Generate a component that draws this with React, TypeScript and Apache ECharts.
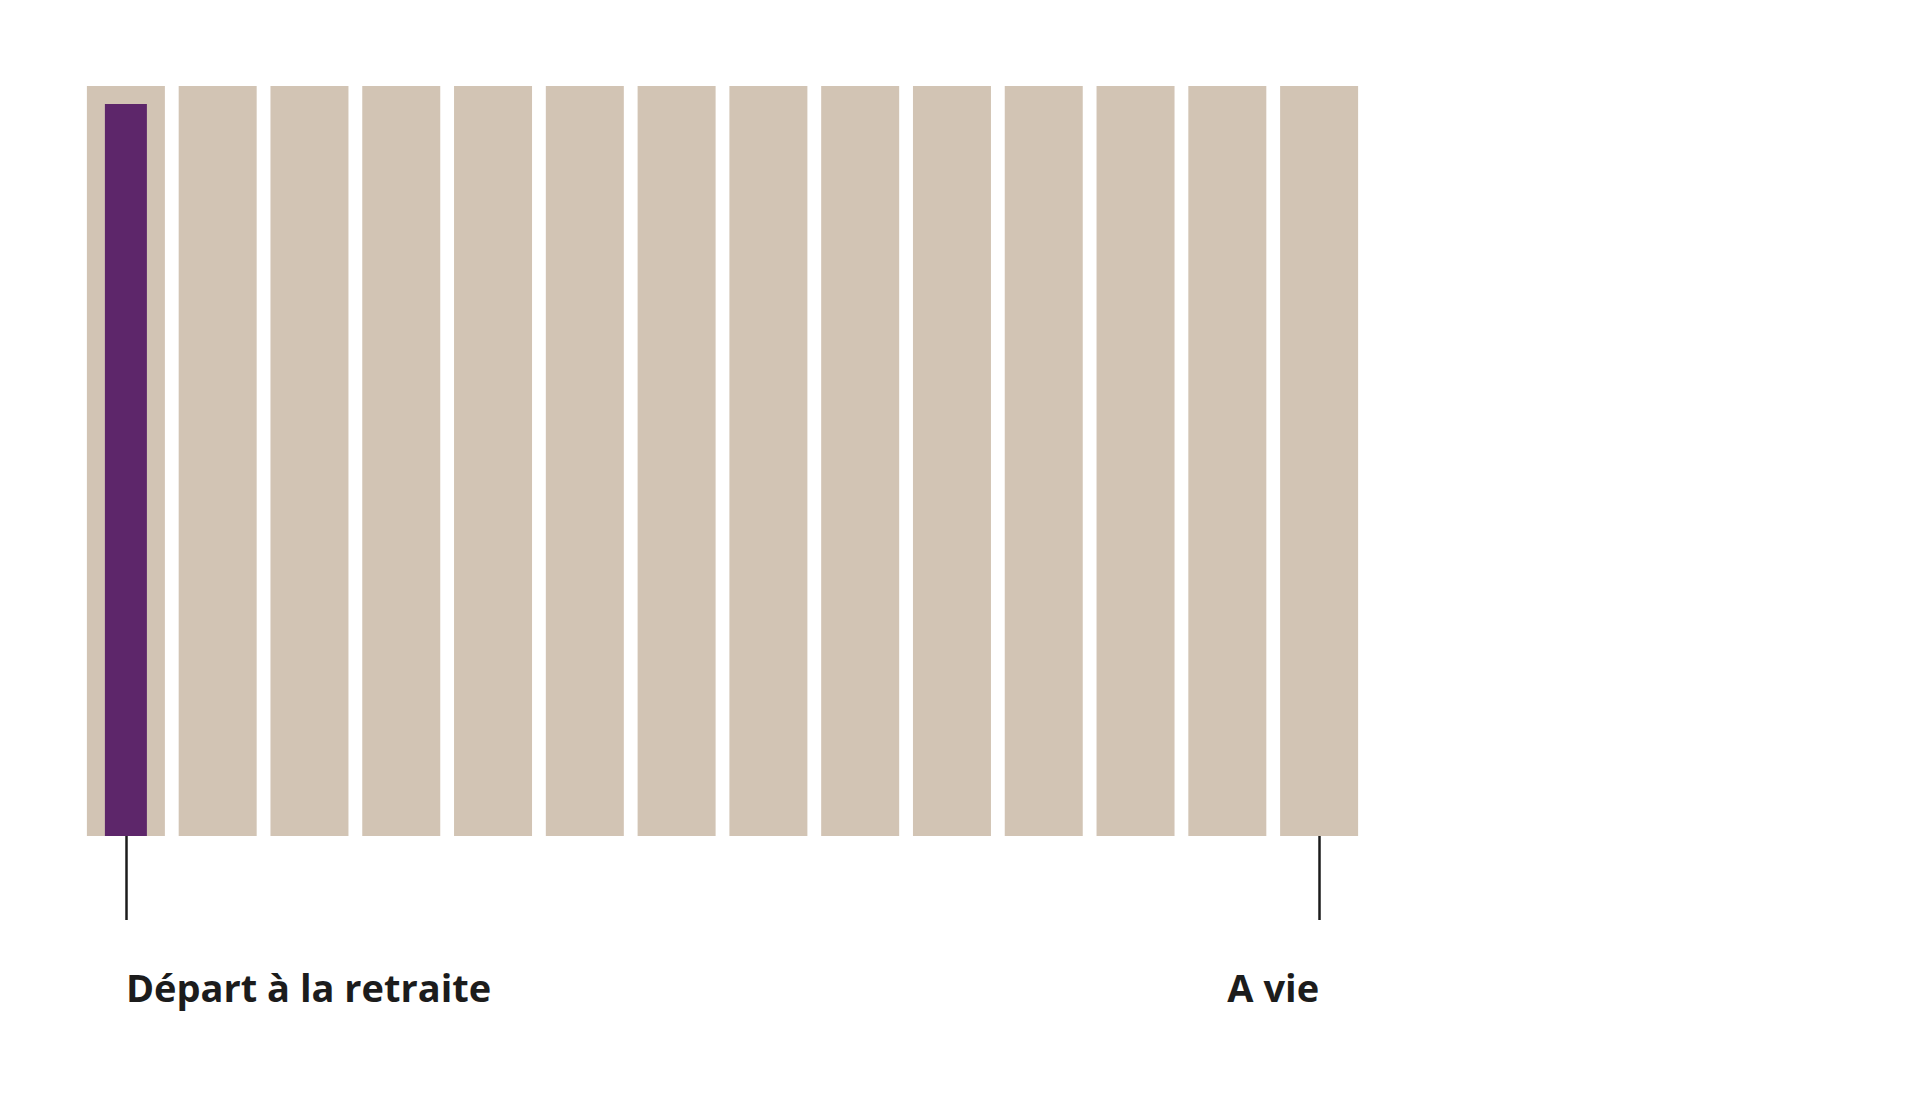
import { useEffect, useRef } from "react";
import * as echarts from "echarts";

// 14 periods, from retirement to lifetime
const periods = [
  "Départ à la retraite", "", "", "", "", "", "", "", "", "", "", "", "", "A vie",
];
const totalValues = [100, 100, 100, 100, 100, 100, 100, 100, 100, 100, 100, 100, 100, 100];
const highlightValues = [97.6, null, null, null, null, null, null, null, null, null, null, null, null, null];

const BEIGE = "#d2c4b4";
const PURPLE = "#5d266a";
const INK = "#1c1c1c";

export default function App() {
  const chartRef = useRef<HTMLDivElement>(null);

  useEffect(() => {
    document.body.style.margin = "0";
    if (!chartRef.current) return;
    const chart = echarts.init(chartRef.current, null, { renderer: "svg" });
    chart.setOption({
      animation: false,
      grid: { left: 80, right: 555, top: 86, bottom: 266 },
      xAxis: [
        {
          type: "category",
          data: periods,
          axisLine: { show: false },
          axisTick: {
            show: true,
            alignWithLabel: true,
            length: 84,
            interval: (i: number) => i === 0 || i === periods.length - 1,
            lineStyle: { color: INK, width: 2.5 },
          },
          axisLabel: {
            interval: 0,
            margin: 151,
            verticalAlign: "middle",
            alignMinLabel: "left",
            alignMaxLabel: "right",
            color: INK,
            fontFamily: "Open Sans",
            fontWeight: "bold",
            fontSize: 38,
          },
        },
        // overlay axis for the highlighted bar, so it stays centred on its category
        { type: "category", data: periods, show: false },
      ],
      yAxis: { type: "value", min: 0, max: 100, show: false },
      series: [
        {
          type: "bar",
          xAxisIndex: 0,
          data: totalValues,
          barWidth: 78,
          itemStyle: { color: BEIGE },
          silent: true,
        },
        {
          type: "bar",
          xAxisIndex: 1,
          data: highlightValues,
          barWidth: 42,
          itemStyle: { color: PURPLE },
          silent: true,
        },
      ],
    });
    return () => chart.dispose();
  }, []);

  return <div ref={chartRef} style={{ width: 1920, height: 1102 }} />;
}
